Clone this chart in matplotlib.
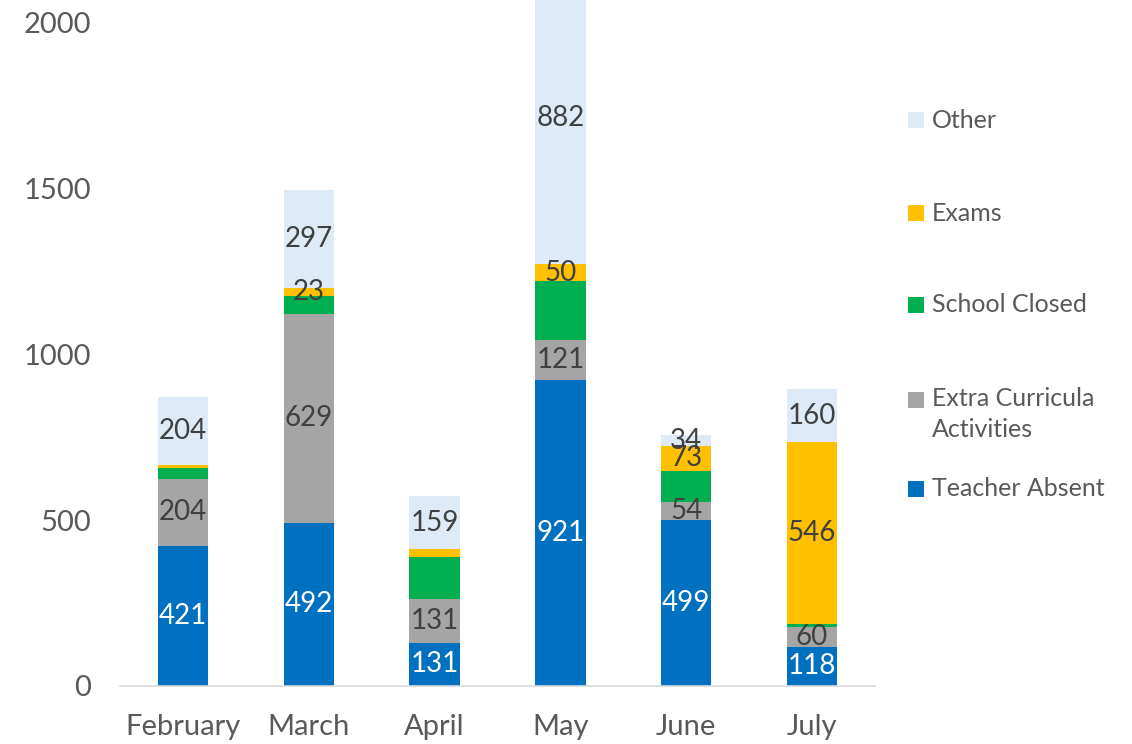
import matplotlib
matplotlib.use("Agg")
import matplotlib.pyplot as plt
from matplotlib.patches import Rectangle
import numpy as np

plt.rcParams['font.family'] = ['Lato', 'DejaVu Sans']

months = ["February", "March", "April", "May", "June", "July"]
teacher_absent = [421, 492, 131, 921, 499, 118]
extra_curricula = [204, 629, 131, 121, 54, 60]
school_closed = [33, 54, 127, 178, 96, 10]
exams = [9, 23, 23, 50, 73, 546]
other = [204, 297, 159, 882, 34, 160]

series = [
    ("Teacher Absent", teacher_absent, "#0070C0", "white", [True] * 6),
    ("Extra Curricula\nActivities", extra_curricula, "#A5A5A5", "#404040", [True] * 6),
    ("School Closed", school_closed, "#00B050", "#404040", [False] * 6),
    ("Exams", exams, "#FFC000", "#404040", [False, True, False, True, True, True]),
    ("Other", other, "#DEEAF6", "#404040", [True] * 6),
]

W, H = 1132, 744
fig = plt.figure(figsize=(W / 100, H / 100), dpi=100)
ax = fig.add_axes([120 / W, 58 / H, 755 / W, 727 / H])
ymax = 2190
ax.set_ylim(0, ymax)
ax.set_xlim(-0.5, 5.5)

x = np.arange(len(months))
bottom = np.zeros(len(months))
for name, vals, color, tcolor, show in series:
    vals = np.array(vals, dtype=float)
    ax.bar(x, vals, bottom=bottom, width=0.4, color=color, zorder=2)
    for i in range(len(months)):
        if show[i]:
            top = min(bottom[i] + vals[i], ymax)
            yc = (bottom[i] + top) / 2
            ax.text(x[i], yc, f"{int(vals[i])}", ha="center", va="center",
                    color=tcolor, fontsize=20, zorder=3)
    bottom += vals

ax.set_xticks(x)
ax.set_xticklabels(months, fontsize=21, color="#595959")
ax.set_yticks([0, 500, 1000, 1500, 2000])
ax.set_yticklabels(["0", "500", "1000", "1500", "2000"], fontsize=21, color="#595959")
ax.tick_params(axis="both", length=0)
ax.tick_params(axis="x", pad=20)
ax.tick_params(axis="y", pad=21)
for s in ["top", "right", "left"]:
    ax.spines[s].set_visible(False)
ax.spines["bottom"].set_color("#D9D9D9")
ax.spines["bottom"].set_linewidth(1.2)

# Legend (reversed order), drawn in figure pixel coordinates
legend_rows = [  # (series index, square center y px, text center y px)
    (4, 120, 120),
    (3, 213, 213),
    (2, 305, 305),
    (1, 400, 414),
    (0, 489, 489),
]
sq = 16
for idx, ysq, ytx in legend_rows:
    name, _, color, _, _ = series[idx]
    fig.patches.append(Rectangle((908 / W, 1 - (ysq + sq / 2) / H), sq / W, sq / H,
                                 transform=fig.transFigure, facecolor=color,
                                 edgecolor="none"))
    fig.text(932 / W, 1 - ytx / H, name, ha="left", va="center", fontsize=18,
             color="#595959", linespacing=1.45)

fig.savefig("out.png", dpi=100)
